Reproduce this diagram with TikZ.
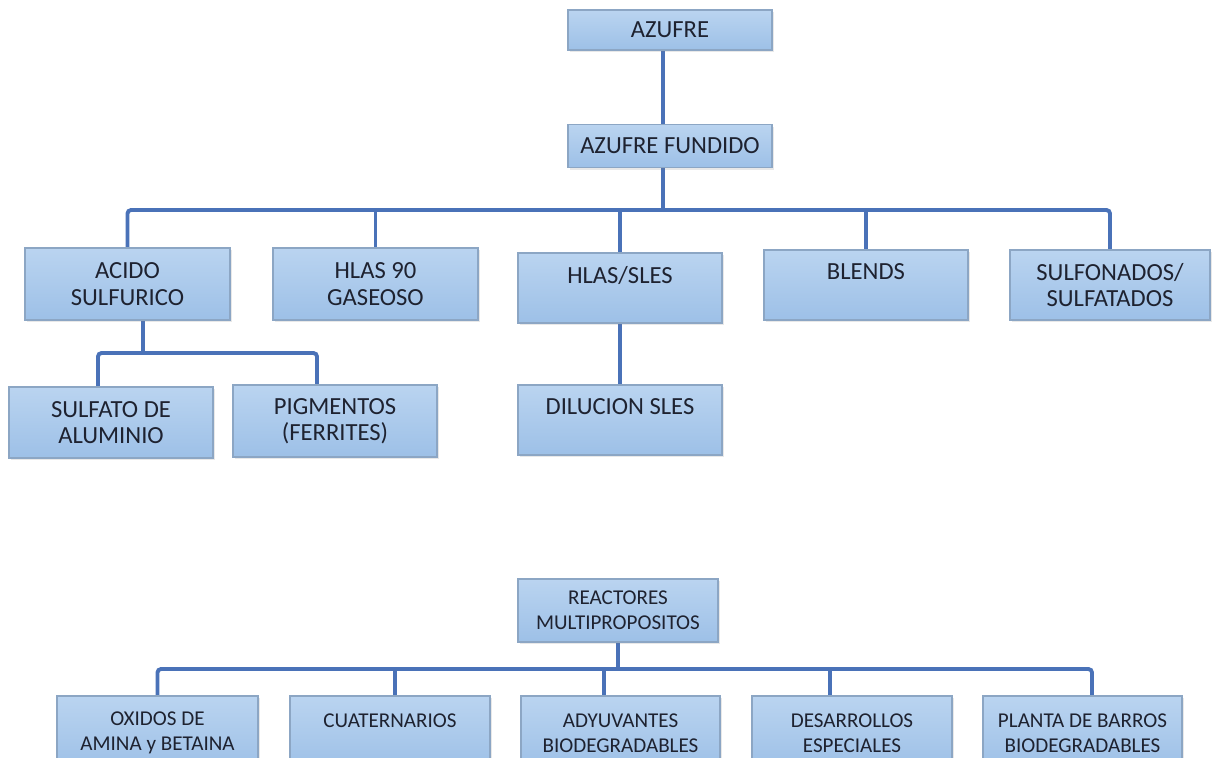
\documentclass[tikz,border=0pt]{standalone}
\usepackage{fontspec}
\setmainfont{Carlito}
\usetikzlibrary{positioning, shadows, backgrounds}

\definecolor{boxtop}{HTML}{BAD4F0}
\definecolor{boxbottom}{HTML}{9DC0E7}
\definecolor{boxedge}{HTML}{8CA6C4}
\definecolor{linkblue}{HTML}{4A72B8}
\definecolor{inktext}{HTML}{1E2230}

\begin{document}
\begin{tikzpicture}[
    % Node styles
    orgbox/.style={
        rectangle,
        draw=boxedge,
        line width=0.6pt,
        top color=boxtop,
        bottom color=boxbottom,
        drop shadow={opacity=0.18, shadow xshift=1.2pt, shadow yshift=-1.2pt},
        minimum width=4.08cm,
        minimum height=1.42cm,
        inner sep=0pt,
        text=inktext,
        font=\fontsize{14}{15}\selectfont,
        align=center
    },
    smallbox/.style={
        orgbox,
        minimum width=4.0cm,
        font=\fontsize{12}{14.2}\selectfont
    },
    link/.style={
        draw=linkblue,
        line width=2.2pt
    }
]
\useasboundingbox (0,0) rectangle (24.24,-15.14);
\clip (0,0) rectangle (24.24,-15.14);

% === Upper tree: AZUFRE ===
\node[orgbox, minimum height=0.80cm] (azufre) at (13.40,-0.60) {AZUFRE};
\node[orgbox, minimum height=0.86cm] (fundido) at (13.40,-2.92) {AZUFRE FUNDIDO};

\node[orgbox, minimum width=4.10cm, minimum height=1.44cm] (acido) at (2.55,-5.68) {ACIDO\\SULFURICO};
\node[orgbox, minimum width=4.10cm, minimum height=1.44cm] (hlas90) at (7.51,-5.68) {HLAS 90\\GASEOSO};
\node[orgbox, minimum height=1.40cm] (hlassles) at (12.40,-5.76) {HLAS/SLES\\\mbox{}};
\node[orgbox, minimum height=1.40cm] (blends) at (17.32,-5.70) {BLENDS\\\mbox{}};
\node[orgbox, minimum width=4.00cm, minimum height=1.40cm] (sulfonados) at (22.20,-5.70) {SULFONADOS/\\SULFATADOS};

\node[orgbox] (sulfato) at (2.22,-8.45) {SULFATO DE\\ALUMINIO};
\node[orgbox, minimum height=1.44cm] (pigmentos) at (6.70,-8.42) {PIGMENTOS\\(FERRITES)};
\node[orgbox, minimum height=1.40cm] (dilucion) at (12.40,-8.40) {DILUCION SLES\\\mbox{}};

% === Lower tree: REACTORES ===
\node[smallbox, minimum height=1.26cm] (reactores) at (12.36,-12.21) {REACTORES\\MULTIPROPOSITOS};

\node[smallbox, minimum width=4.02cm, minimum height=1.48cm] (oxidos) at (3.15,-14.66) {OXIDOS DE\\AMINA y BETAINA};
\node[smallbox, minimum height=1.48cm] (cuaternarios) at (7.80,-14.66) {CUATERNARIOS\\\mbox{}};
\node[smallbox, minimum width=3.98cm, minimum height=1.48cm] (adyuvantes) at (12.41,-14.66) {ADYUVANTES\\BIODEGRADABLES};
\node[smallbox, minimum height=1.48cm] (desarrollos) at (17.04,-14.66) {DESARROLLOS\\ESPECIALES};
\node[smallbox, minimum width=3.98cm, minimum height=1.48cm] (planta) at (21.65,-14.66) {PLANTA DE BARROS\\BIODEGRADABLES};

% bus lines
\coordinate (bus1) at (0,-4.20);
\coordinate (bus2) at (0,-7.06);
\coordinate (bus3) at (0,-13.38);

% === Connectors ===
\begin{scope}[on background layer]
    \coordinate (azs) at ([xshift=-1.4mm]azufre.south);
    \coordinate (fun) at ([xshift=-1.4mm]fundido.north);
    \coordinate (fus) at ([xshift=-1.4mm]fundido.south);
    \draw[link] (azs) -- (fun);
    \draw[link] (fus) -- (fus |- bus1);
    \draw[link, rounded corners=2pt] (acido.north) |- (bus1 -| sulfonados.north) -- (sulfonados.north);
    \foreach \n in {hlas90, hlassles, blends}
        \draw[link] (\n.north) -- (\n.north |- bus1);

    \coordinate (acs) at ([xshift=3.1mm]acido.south);
    \coordinate (sun) at ([xshift=-2.6mm]sulfato.north);
    \coordinate (pgn) at ([xshift=-3.6mm]pigmentos.north);
    \draw[link] (acs) -- (acs |- bus2);
    \draw[link, rounded corners=2pt] (sun) |- (bus2 -| pgn) -- (pgn);

    \draw[link] (hlassles.south) -- (dilucion.north);

    \coordinate (pln) at ([xshift=1.9mm]planta.north);
    \draw[link] (reactores.south) -- (reactores.south |- bus3);
    \draw[link, rounded corners=2pt] (oxidos.north) |- (bus3 -| pln) -- (pln);
    \coordinate (cun) at ([xshift=1mm]cuaternarios.north);
    \coordinate (adn) at ([xshift=-3.3mm]adyuvantes.north);
    \coordinate (den) at ([xshift=-4.4mm]desarrollos.north);
    \foreach \c in {cun, adn, den}
        \draw[link] (\c) -- (\c |- bus3);
\end{scope}

\end{tikzpicture}
\end{document}
